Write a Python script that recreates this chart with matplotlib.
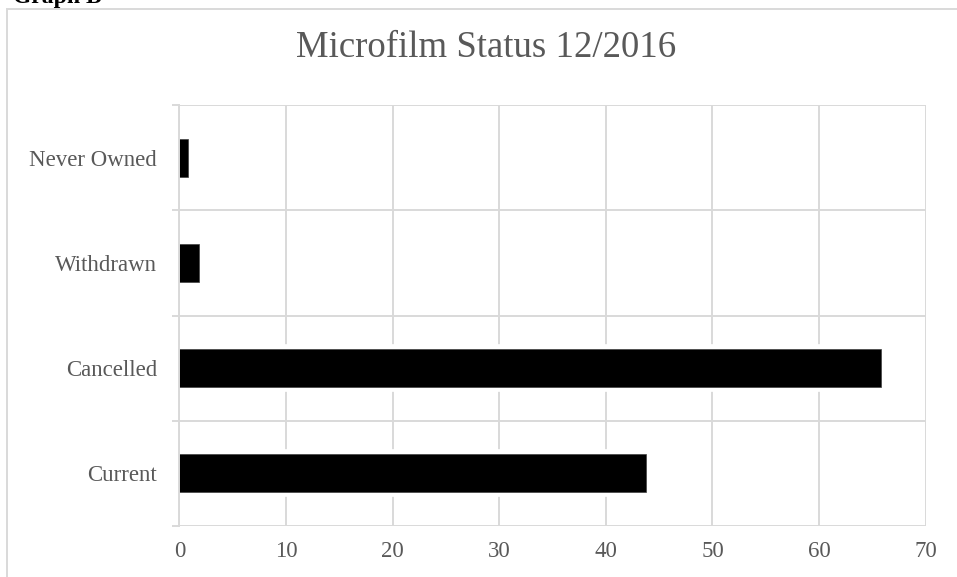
import matplotlib.pyplot as plt
import matplotlib.patheffects as pe
from matplotlib.patches import Rectangle
import numpy as np

# data (bottom to top)
categories = ['Current', 'Cancelled', 'Withdrawn', 'Never Owned']
counts = [43.8, 65.8, 1.8, 0.8]
x_ticks = [0, 10, 20, 30, 40, 50, 60, 70]

grey = '#d9d9d9'
txt = '#595959'
plt.rcParams['font.family'] = ['Liberation Serif', 'DejaVu Serif']

fig = plt.figure(figsize=(9.57, 5.77), dpi=100)
ax = fig.add_axes([0.1874, 0.0884, 0.9673 - 0.1874, 0.818 - 0.0884])

ypos = np.arange(len(categories))
bars = ax.barh(ypos, counts, height=0.36, color='black', edgecolor='#404040',
               linewidth=0.5, zorder=1)
for b in bars:
    b.set_path_effects([pe.Stroke(linewidth=7, foreground='white'), pe.Normal()])

ax.set_xlim(0, 70)
ax.set_ylim(-0.5, len(categories) - 0.5)
ax.set_xticks(x_ticks)
ax.set_yticks(ypos)
ax.set_yticklabels(categories)
ax.set_yticks(np.arange(-0.5, len(categories)), minor=True)

ax.set_axisbelow(True)
ax.grid(axis='x', color=grey, linewidth=1.4)
ax.grid(axis='y', which='minor', color=grey, linewidth=1.4)

ax.tick_params(axis='x', length=0, pad=11, labelsize=16.5, labelcolor=txt)
ax.tick_params(axis='y', which='major', length=0, pad=16, labelsize=16.5, labelcolor=txt)
ax.tick_params(axis='y', which='minor', length=5, width=1.4, color=grey, direction='out')

for s in ['top', 'right', 'bottom']:
    ax.spines[s].set_visible(False)
ax.spines['left'].set_color(grey)
ax.spines['left'].set_linewidth(1.4)

fig.text(0.508, 0.917, 'Microfilm Status 12/2016', ha='center', va='center',
         fontsize=26.5, color=txt)

# chart border and caption (cut off in the source)
fig.add_artist(Rectangle((7 / 957, -0.1), 1.0, 1 - 9 / 577 + 0.1, transform=fig.transFigure,
                         fill=False, edgecolor=grey, linewidth=1.4))
fig.text(13 / 957, 1 - 3 / 577, 'Graph B', ha='left', va='baseline', fontsize=17,
         fontweight='bold', color='black')

fig.savefig('out.png', dpi=100)
